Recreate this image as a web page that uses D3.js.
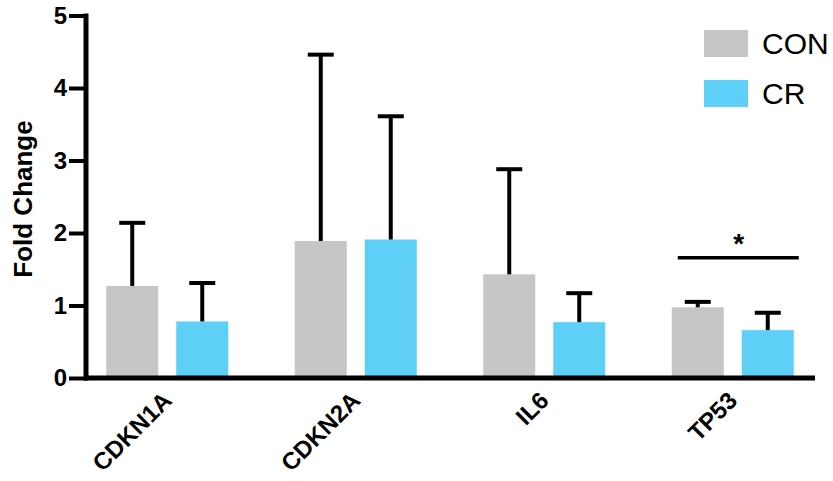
<!DOCTYPE html>
<html>
<head>
<meta charset="utf-8">
<script src="https://cdn.jsdelivr.net/npm/d3@7"></script>
<style>
  html, body { margin: 0; padding: 0; background: #fff; }
  svg { display: block; font-family: "Liberation Sans", Arial, sans-serif; }
</style>
</head>
<body>
<svg id="chart" width="833" height="481"></svg>
<script>
// Gene expression fold change, control vs. caloric restriction
const genes = ["CDKN1A", "CDKN2A", "IL6", "TP53"];
const groups = ["CON", "CR"];
const conMean = [1.27, 1.89, 1.43, 0.975];
const conErr  = [0.87, 2.57, 1.45, 0.075];
const crMean  = [0.78, 1.91, 0.77, 0.66];
const crErr   = [0.53, 1.70, 0.40, 0.24];
const yTicks  = [0, 1, 2, 3, 4, 5];
const sigGene = "TP53";
const sigLevel = 1.66;
const sigLabel = "*";

const colors = { CON: "#c6c6c8", CR: "#5ecff6" };

const svg = d3.select("#chart");

const y = d3.scaleLinear().domain([0, 5]).range([378, 15.5]);
const x = d3.scaleBand().domain(genes).range([73, 827]).paddingInner(0).paddingOuter(0);
const xSub = d3.scaleBand().domain(groups).range([0, 122]).paddingInner(18 / 70).paddingOuter(0);
const subOffset = x.bandwidth() / 2 - 61;

const rows = genes.map((g, i) => [
  { gene: g, group: "CON", mean: conMean[i], err: conErr[i] },
  { gene: g, group: "CR",  mean: crMean[i],  err: crErr[i] }
]).flat();

// Bars
svg.append("g").selectAll("rect").data(rows).join("rect")
  .attr("x", d => x(d.gene) + subOffset + xSub(d.group))
  .attr("y", d => y(d.mean))
  .attr("width", xSub.bandwidth())
  .attr("height", d => y(0) - y(d.mean))
  .attr("fill", d => colors[d.group]);

// Upper error bars
const eb = svg.append("g").attr("stroke", "#000").attr("stroke-width", 4);
rows.forEach(d => {
  const cx = x(d.gene) + subOffset + xSub(d.group) + xSub.bandwidth() / 2;
  eb.append("line").attr("x1", cx).attr("x2", cx)
    .attr("y1", y(d.mean)).attr("y2", y(d.mean + d.err));
  eb.append("line").attr("x1", cx - 13).attr("x2", cx + 13)
    .attr("y1", y(d.mean + d.err)).attr("y2", y(d.mean + d.err));
});

// Y axis
const yAxis = svg.append("g").attr("transform", "translate(86,0)")
  .call(d3.axisLeft(y).tickValues(yTicks).tickSize(17).tickPadding(2).tickFormat(d3.format("d")));
yAxis.select(".domain").remove();
yAxis.selectAll(".tick line").attr("stroke", "#000").attr("stroke-width", 4);
yAxis.selectAll(".tick text")
  .attr("fill", "#000").attr("font-size", 24).attr("font-weight", "bold")
  .attr("font-family", "'Liberation Sans', Arial, sans-serif");
svg.append("line").attr("x1", 86).attr("x2", 86).attr("y1", y(5) - 2).attr("y2", y(0) + 2.5)
  .attr("stroke", "#000").attr("stroke-width", 5);

// X axis line
svg.append("line").attr("x1", 84).attr("x2", 815).attr("y1", y(0)).attr("y2", y(0))
  .attr("stroke", "#000").attr("stroke-width", 5);

// X labels, rotated
svg.append("g").selectAll("text").data(genes).join("text")
  .attr("transform", g => `translate(${x(g) + x.bandwidth() / 2 + 6},${y(0) + 24}) rotate(-45)`)
  .attr("text-anchor", "end")
  .attr("font-size", 24).attr("font-weight", "bold")
  .text(g => g);

// Y axis title
svg.append("text")
  .attr("transform", "translate(32,199) rotate(-90)")
  .attr("text-anchor", "middle")
  .attr("font-size", 26).attr("font-weight", "bold")
  .text("Fold Change");

// Significance bracket
const sx = x(sigGene) + subOffset;
svg.append("line").attr("x1", sx + 6).attr("x2", sx + 127)
  .attr("y1", y(sigLevel)).attr("y2", y(sigLevel))
  .attr("stroke", "#000").attr("stroke-width", 3.5);
svg.append("text").attr("x", sx + 67).attr("y", y(sigLevel) - 5)
  .attr("text-anchor", "middle").attr("font-size", 28).attr("font-weight", "bold")
  .text(sigLabel);

// Legend
const legend = svg.append("g").attr("transform", "translate(704,30)");
groups.forEach((g, i) => {
  const row = legend.append("g").attr("transform", `translate(0,${i * 50})`);
  row.append("rect").attr("width", 44).attr("height", 27).attr("fill", colors[g]);
  row.append("text").attr("x", 58).attr("y", 13.5).attr("dy", "0.36em")
    .attr("font-size", 30).text(g);
});
</script>
</body>
</html>
